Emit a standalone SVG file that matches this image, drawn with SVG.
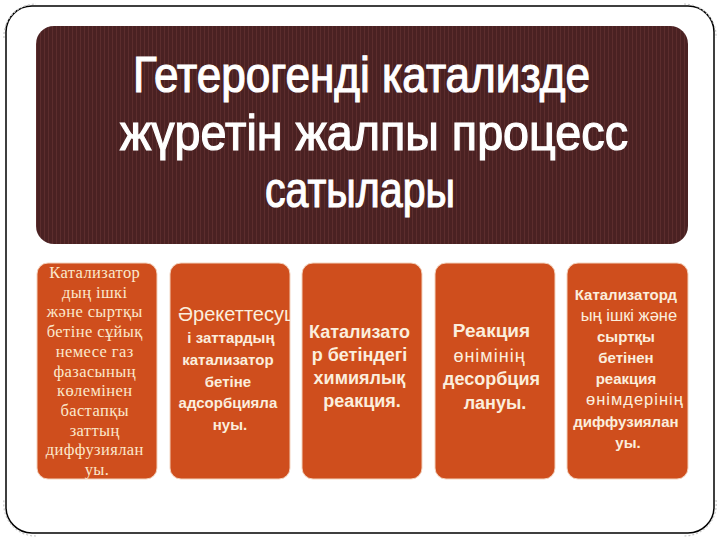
<svg xmlns="http://www.w3.org/2000/svg" width="720" height="540" viewBox="0 0 720 540">
<defs>
<pattern id="stripes" width="4" height="10" patternUnits="userSpaceOnUse">
<rect width="4" height="10" fill="#4a2122"/>
<rect x="0" width="1" height="10" fill="#5c2d2d"/>
</pattern>
<clipPath id="c2"><rect x="170" y="263" width="120" height="216" rx="11"/></clipPath>
<clipPath id="c5"><rect x="567" y="263" width="121" height="216" rx="11"/></clipPath>
</defs>
<style>
.frame{fill:#fff;stroke:#000;stroke-width:1.5}
.curl{fill:none;stroke:#c8c8c8;stroke-width:1.2;stroke-dasharray:2 2}
.box{fill:#cf4e1d;stroke:#f3d2bd;stroke-width:1}
.title{font-family:"Liberation Sans",Arial,sans-serif;font-size:50px;fill:#fff;stroke:#fff;stroke-width:1.2}
.serif{font-family:"Liberation Serif","Times New Roman",serif;font-size:16.5px;fill:#fbe8cc;text-anchor:middle;letter-spacing:0.4px}
.sans{font-family:"Liberation Sans",Arial,sans-serif;fill:#fbeedd;text-anchor:middle}
.b{font-weight:bold}
.w{letter-spacing:1px}
</style>
<rect width="720" height="540" fill="#fff"/>
<g id="frame">
<rect class="frame" x="6" y="6" width="708" height="527" rx="26"/>
<path class="curl" d="M4,38 A32,32 0 0 1 36,4"/>
<path class="curl" d="M684,4 A32,32 0 0 1 716,38"/>
<path class="curl" d="M716,500 A32,32 0 0 1 684,536"/>
<path class="curl" d="M36,536 A32,32 0 0 1 4,500"/>
</g>
<g id="title">
<rect x="36" y="26" width="652" height="218" rx="18" fill="url(#stripes)"/>
<text class="title" x="133" y="92" textLength="457" lengthAdjust="spacingAndGlyphs">Гетерогенді катализде</text>
<text class="title" x="120" y="150" textLength="508" lengthAdjust="spacingAndGlyphs">жүретін жалпы процесс</text>
<text class="title" x="265" y="207" textLength="190" lengthAdjust="spacingAndGlyphs">сатылары</text>
</g>
<g id="step1">
<rect class="box" x="37" y="263" width="120" height="216" rx="11"/>
<text class="serif">
<tspan x="97" y="278">Катализатор</tspan>
<tspan x="97" y="297.7">дың ішкі</tspan>
<tspan x="97" y="317.4">және сыртқы</tspan>
<tspan x="97" y="337.1">бетіне сұйық</tspan>
<tspan x="97" y="356.8">немесе газ</tspan>
<tspan x="97" y="376.5">фазасының</tspan>
<tspan x="97" y="396.2">көлемінен</tspan>
<tspan x="97" y="415.9">бастапқы</tspan>
<tspan x="97" y="435.6">заттың</tspan>
<tspan x="97" y="455.3">диффузиялан</tspan>
<tspan x="97" y="475">уы.</tspan>
</text>
</g>
<g id="step2">
<rect class="box" x="170" y="263" width="120" height="216" rx="11"/>
<g clip-path="url(#c2)">
<text class="sans" x="178" y="321" font-size="20" style="text-anchor:start">Әрекеттесуш</text>
</g>
<text class="sans b" font-size="15">
<tspan x="233" y="343">і заттардың</tspan>
<tspan x="230" y="365">катализатор</tspan>
<tspan x="230" y="387">бетіне</tspan>
<tspan x="230" y="408">адсорбцияла</tspan>
<tspan x="230" y="430">нуы.</tspan>
</text>
</g>
<g id="step3">
<rect class="box" x="302" y="263" width="120" height="216" rx="11"/>
<text class="sans b" font-size="18">
<tspan x="362" y="338">Катализато</tspan>
<tspan x="362" y="361">р бетіндегі</tspan>
<tspan x="362" y="384">химиялық</tspan>
<tspan x="362" y="407">реакция.</tspan>
</text>
</g>
<g id="step4">
<rect class="box" x="435" y="263" width="120" height="216" rx="11"/>
<text class="sans" font-size="18">
<tspan x="494" y="337" font-weight="bold" font-size="19">Реакция</tspan>
<tspan x="492" y="362" class="w">өнімінің</tspan>
<tspan x="494" y="385" font-weight="bold">десорбция</tspan>
<tspan x="495" y="409" font-weight="bold">лануы.</tspan>
</text>
</g>
<g id="step5">
<rect class="box" x="567" y="263" width="121" height="216" rx="11"/>
<g clip-path="url(#c5)">
<text class="sans" font-size="15">
<tspan x="628" y="300" font-weight="bold">Катализаторд</tspan>
<tspan x="631" y="321" font-size="16.5">ың ішкі және</tspan>
<tspan x="628" y="342" font-weight="bold">сыртқы</tspan>
<tspan x="628" y="363" font-weight="bold">бетінен</tspan>
<tspan x="628" y="384" font-weight="bold">реакция</tspan>
<tspan x="637" y="405" font-size="16.5" class="w">өнімдерінің</tspan>
<tspan x="628" y="427" font-weight="bold">диффузиялан</tspan>
<tspan x="628" y="448" font-weight="bold">уы.</tspan>
</text>
</g>
</g>
</svg>
